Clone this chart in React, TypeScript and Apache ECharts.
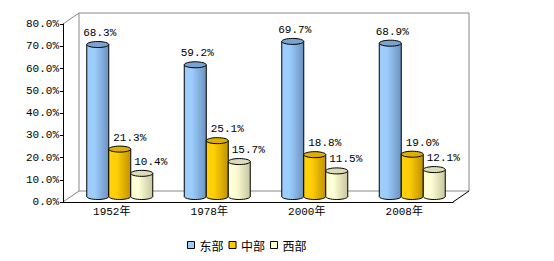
import React, { useEffect, useRef } from "react";
import * as echarts from "echarts";

const categories = ["1952年", "1978年", "2000年", "2008年"];
const seriesNames = ["东部", "中部", "西部"];
const eastValues = [68.3, 59.2, 69.7, 68.9];
const centralValues = [21.3, 25.1, 18.8, 19.0];
const westValues = [10.4, 15.7, 11.5, 12.1];
const yMin = 0;
const yMax = 80;
const yInterval = 10;

const GRID = { left: 63, top: 24, width: 390, height: 178 };
const DEPTH_X = 16;
const DEPTH_Y = -11;
const BAR_W = 22;
const FONT = "'Liberation Mono', 'Noto Sans CJK SC', monospace";

const styles = [
  { light: "#9ccdfd", dark: "#6b92c0", top: "#7aa3d0", legend: "#99ccff", off: -22, labelDx: 2 },
  { light: "#ffcf08", dark: "#c09200", top: "#e0b000", legend: "#ffcc00", off: 0, labelDx: 10 },
  { light: "#ffffd6", dark: "#c6c6a0", top: "#dcdcb8", legend: "#ffffcc", off: 22, labelDx: 9 },
];

export default function App() {
  const ref = useRef<HTMLDivElement>(null);
  useEffect(() => {
    if (!ref.current) return;
    const chart = echarts.init(ref.current, null, { renderer: "svg" });
    const valueSets = [eastValues, centralValues, westValues];

    const makeSeries = (si: number) => {
      const st = styles[si];
      const grad = new echarts.graphic.LinearGradient(0, 0, 1, 0, [
        { offset: 0, color: st.light },
        { offset: 0.35, color: st.light },
        { offset: 1, color: st.dark },
      ]);
      return {
        type: "custom",
        name: seriesNames[si],
        coordinateSystem: "cartesian2d",
        itemStyle: { color: st.legend, borderColor: "#000", borderWidth: 1 },
        encode: { x: 0, y: 1 },
        data: categories.map((c, i) => [i, valueSets[si][i]]),
        z: 3,
        renderItem: (params: any, api: any) => {
          const cat = api.value(0);
          const v = api.value(1);
          const topPt = api.coord([cat, v]);
          const basePt = api.coord([cat, 0]);
          const cx = topPt[0] + DEPTH_X / 2 + st.off;
          const ty = topPt[1] + DEPTH_Y / 2;
          const by = basePt[1] + DEPTH_Y / 2;
          const r = BAR_W / 2;
          return {
            type: "group",
            children: [
              {
                type: "ellipse",
                shape: { cx, cy: by, rx: r, ry: 3 },
                style: { fill: grad, stroke: "#000", lineWidth: 1 },
              },
              {
                type: "rect",
                shape: { x: cx - r, y: ty, width: BAR_W, height: by - ty },
                style: { fill: grad },
              },
              {
                type: "line",
                shape: { x1: cx - r, y1: ty, x2: cx - r, y2: by },
                style: { stroke: "#000", lineWidth: 1 },
              },
              {
                type: "line",
                shape: { x1: cx + r, y1: ty, x2: cx + r, y2: by },
                style: { stroke: "#000", lineWidth: 1 },
              },
              {
                type: "ellipse",
                shape: { cx, cy: ty, rx: r, ry: 3 },
                style: { fill: st.top, stroke: "#000", lineWidth: 1 },
              },
              {
                type: "text",
                style: {
                  text: v.toFixed(1) + "%",
                  x: cx + st.labelDx,
                  y: ty - 11.5,
                  align: "center",
                  verticalAlign: "middle",
                  font: "11px " + FONT,
                  fill: "#000",
                },
              },
            ],
          };
        },
      };
    };

    const L = GRID.left, T = GRID.top, R = GRID.left + GRID.width, B = GRID.top + GRID.height;
    const gray = "#888888";
    const option: any = {
      animation: false,
      backgroundColor: "#ffffff",
      grid: { left: L, top: T, width: GRID.width, height: GRID.height },
      graphic: [
        {
          type: "rect",
          z: 0,
          shape: { x: L + DEPTH_X, y: T + DEPTH_Y, width: GRID.width, height: GRID.height },
          style: { fill: "none", stroke: gray, lineWidth: 1 },
        },
        {
          type: "line",
          z: 0,
          shape: { x1: L, y1: T, x2: L + DEPTH_X, y2: T + DEPTH_Y },
          style: { stroke: gray, lineWidth: 1 },
        },
        {
          type: "line",
          z: 0,
          shape: { x1: L, y1: B, x2: L + DEPTH_X, y2: B + DEPTH_Y },
          style: { stroke: gray, lineWidth: 1 },
        },
        {
          type: "line",
          z: 0,
          shape: { x1: R, y1: B, x2: R + DEPTH_X, y2: B + DEPTH_Y },
          style: { stroke: "#000", lineWidth: 1 },
        },
      ],
      legend: {
        left: 187,
        top: 239,
        padding: 0,
        icon: "rect",
        itemWidth: 7,
        itemHeight: 7,
        itemGap: 5,
        textStyle: { fontSize: 12, fontFamily: "'Noto Sans CJK SC'", color: "#000" },
        data: seriesNames.map((n, i) => ({
          name: n,
          itemStyle: { color: styles[i].legend, borderColor: "#000", borderWidth: 1 },
        })),
      },
      xAxis: {
        type: "category",
        data: categories,
        boundaryGap: true,
        axisLine: { lineStyle: { color: "#000", width: 1 } },
        axisTick: { inside: true, length: 3, lineStyle: { color: "#000" } },
        axisLabel: { color: "#000", fontSize: 11, fontFamily: FONT, margin: 4 },
        splitLine: { show: false },
      },
      yAxis: {
        type: "value",
        min: yMin,
        max: yMax,
        interval: yInterval,
        axisLine: { show: true, lineStyle: { color: "#000", width: 1 } },
        axisTick: { show: true, length: 3, lineStyle: { color: "#000" } },
        axisLabel: {
          color: "#000",
          fontSize: 11,
          fontFamily: FONT,
          margin: 4,
          formatter: (v: number) => v.toFixed(1) + "%",
        },
        splitLine: { show: false },
      },
      series: [makeSeries(0), makeSeries(1), makeSeries(2)],
    };
    chart.setOption(option);
    return () => chart.dispose();
  }, []);
  return (
    <div
      ref={ref}
      style={{ position: "fixed", left: 0, top: 0, width: 554, height: 261, background: "#fff" }}
    />
  );
}
